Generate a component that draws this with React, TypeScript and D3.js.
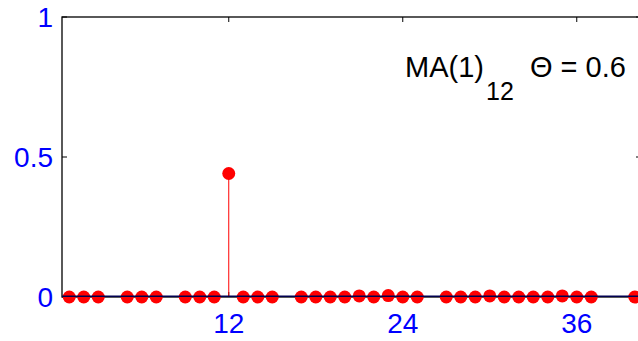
import React, { useRef, useEffect } from 'react';
import * as d3 from 'd3';

// lags shown in the plot (some lags have no marker in the source figure)
const lags = [1, 2, 3, 5, 6, 7, 9, 10, 11, 12, 13, 14, 15, 17, 18, 19, 20, 21, 22, 23, 24, 25,
  27, 28, 29, 30, 31, 32, 33, 34, 35, 36, 37, 40];
const acf = [0, 0, 0, 0, 0, 0, 0, 0, 0, 0.441, 0, 0, 0, 0, 0, 0, 0, 0.004, 0, 0.005, 0, 0,
  0, 0, 0, 0.004, 0, 0, 0, 0, 0.004, 0, 0, 0];
const xTicks = [12, 24, 36];
const yTicks = [0, 0.5, 1];
const yTickLabels = ['0', '0.5', '1'];

const App = () => {
  const svgRef = useRef<SVGSVGElement>(null);

  useEffect(() => {
    const svg = d3.select(svgRef.current);
    svg.selectAll('*').remove();

    const width = 638;
    const height = 341;
    const font = '"Liberation Sans", Arial, Helvetica, sans-serif';

    const x = d3.scaleLinear().domain([0.5, 40.5]).range([62, 642]);
    const y = d3.scaleLinear().domain([0, 1]).range([297, 17]);

    svg.attr('width', width).attr('height', height).style('background', '#fff');

    const data = lags.map((l, i) => ({ lag: l, v: acf[i] }));

    // axis box
    svg.append('rect')
      .attr('x', x(0.5)).attr('y', y(1))
      .attr('width', x(40.5) - x(0.5)).attr('height', y(0) - y(1))
      .attr('fill', 'none').attr('stroke', '#000').attr('stroke-width', 1.3);

    // y ticks (inward, both sides)
    yTicks.forEach((t) => {
      svg.append('line').attr('x1', x(0.5)).attr('x2', x(0.5) + 5)
        .attr('y1', y(t)).attr('y2', y(t)).attr('stroke', '#000');
      svg.append('line').attr('x1', x(40.5)).attr('x2', x(40.5) - 6)
        .attr('y1', y(t)).attr('y2', y(t)).attr('stroke', '#000');
    });
    // x ticks
    xTicks.forEach((t) => {
      svg.append('line').attr('x1', x(t)).attr('x2', x(t))
        .attr('y1', y(0)).attr('y2', y(0) - 5).attr('stroke', '#000');
      svg.append('line').attr('x1', x(t)).attr('x2', x(t))
        .attr('y1', y(1)).attr('y2', y(1) + 5).attr('stroke', '#000');
    });

    // stems
    svg.selectAll('.stem').data(data).enter().append('line')
      .attr('x1', d => x(d.lag)).attr('x2', d => x(d.lag))
      .attr('y1', y(0)).attr('y2', d => y(d.v))
      .attr('stroke', '#ff0000').attr('stroke-width', 1);

    // markers
    svg.selectAll('.dot').data(data).enter().append('circle')
      .attr('cx', d => x(d.lag)).attr('cy', d => y(d.v))
      .attr('r', 6.5).attr('fill', '#ff0000');

    // baseline
    svg.append('line')
      .attr('x1', x(0.5)).attr('x2', x(40.5))
      .attr('y1', y(0) - 0.8).attr('y2', y(0) - 0.8)
      .attr('stroke', '#000050').attr('stroke-width', 1.6);

    // tick labels
    svg.selectAll('.ylab').data(yTicks).enter().append('text')
      .attr('x', 53).attr('y', d => y(d) + 10)
      .attr('text-anchor', 'end')
      .style('font-family', font).style('font-size', '28px').attr('fill', '#0000ff')
      .text((d, i) => yTickLabels[i]);

    svg.selectAll('.xlab').data(xTicks).enter().append('text')
      .attr('x', d => x(d)).attr('y', 333)
      .attr('text-anchor', 'middle')
      .style('font-family', font).style('font-size', '28px').attr('fill', '#0000ff')
      .text(d => String(d));

    // annotation
    const ann = svg.append('g').style('font-family', font).attr('fill', '#000');
    ann.append('text').attr('x', 405).attr('y', 77).style('font-size', '29px').text('MA(1)');
    ann.append('text').attr('x', 486).attr('y', 100).style('font-size', '25px').text('12');
    ann.append('text').attr('x', 530).attr('y', 77).style('font-size', '29px').text('Θ = 0.6');
  }, []);

  return (
    <div style={{ position: 'absolute', left: 0, top: 0, width: 638, height: 341, overflow: 'hidden' }}>
      <svg ref={svgRef} style={{ display: 'block' }}></svg>
    </div>
  );
};

export default App;
